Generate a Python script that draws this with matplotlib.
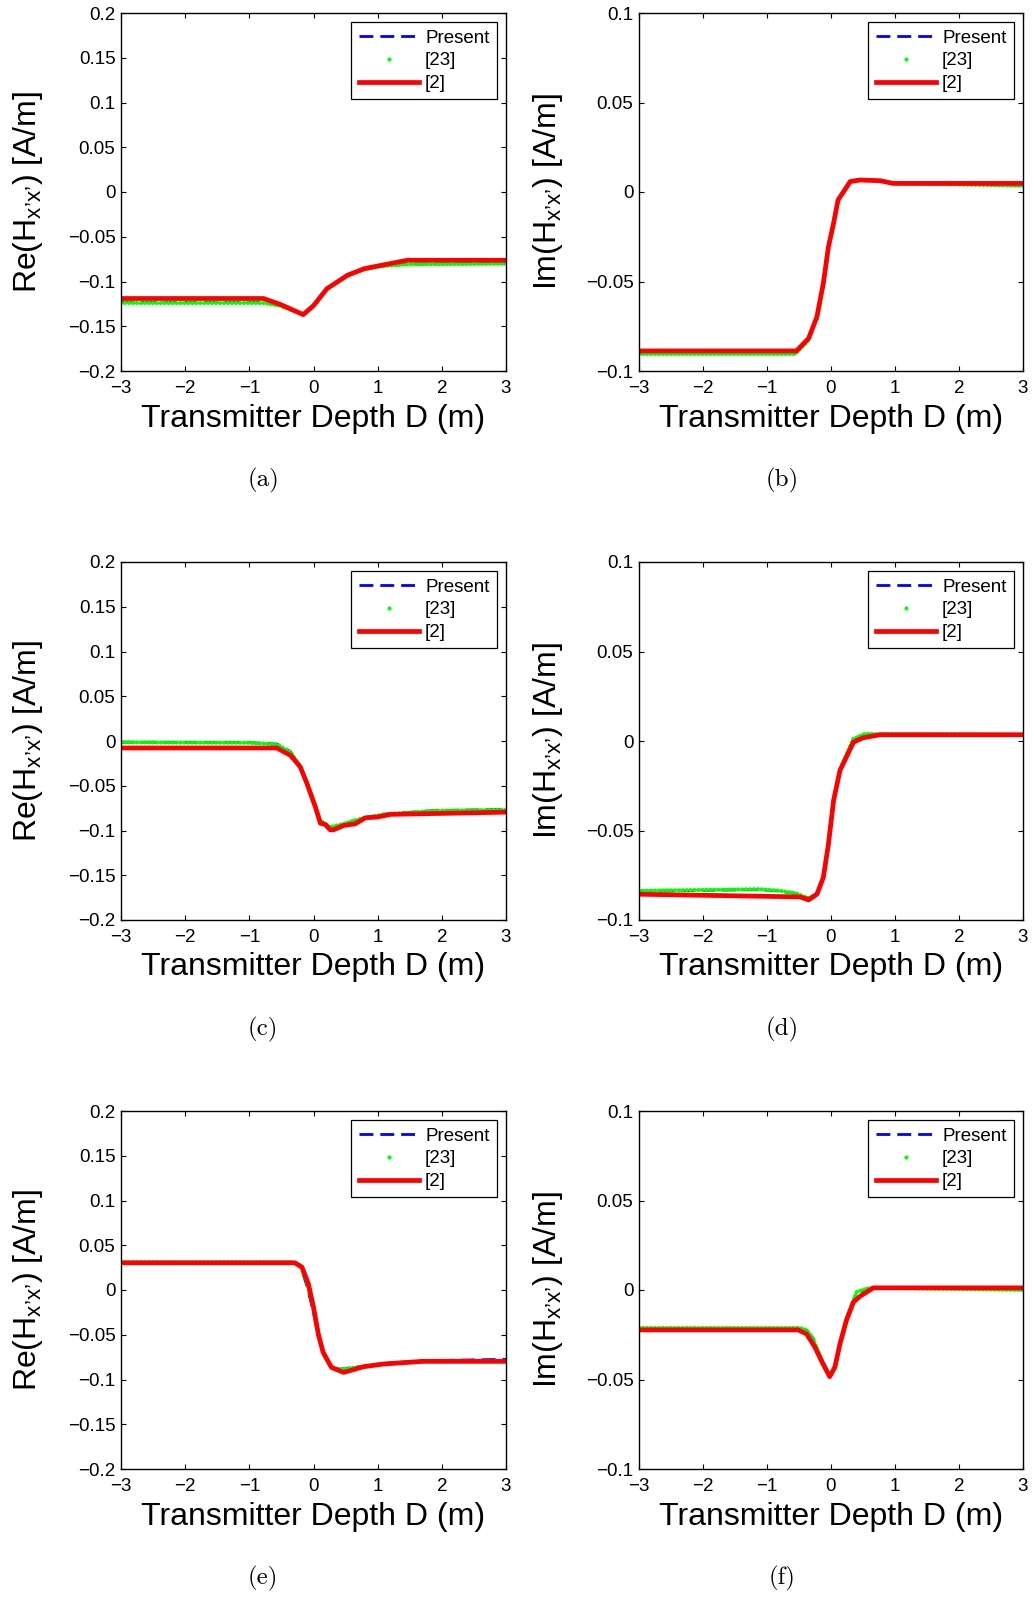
import numpy as np
import matplotlib
matplotlib.use("Agg")
import matplotlib.pyplot as plt
from matplotlib.lines import Line2D
from matplotlib import ticker

plt.rcParams['font.family'] = ['Liberation Sans', 'DejaVu Sans']
plt.rcParams['mathtext.fontset'] = 'custom'
plt.rcParams['mathtext.rm'] = 'Liberation Sans'
plt.rcParams['mathtext.it'] = 'Liberation Sans'

W, H = 1034, 1597

x_ticks = [-3, -2, -1, 0, 1, 2, 3]
re_ticks = [-0.2, -0.15, -0.1, -0.05, 0, 0.05, 0.1, 0.15, 0.2]
im_ticks = [-0.1, -0.05, 0, 0.05, 0.1]
legend_labels = ["Present", "[23]", "[2]"]
captions = ["(a)", "(b)", "(c)", "(d)", "(e)", "(f)"]

# (a) Re, case 1
a_red_x = [-3, -0.78, -0.52, -0.16, 0.0, 0.21, 0.53, 0.79, 1.05, 1.46, 3]
a_red_y = [-0.119, -0.119, -0.1255, -0.137, -0.127, -0.108, -0.093, -0.0857, -0.082, -0.0763, -0.0763]
a_grn_x = [-3, -0.78, -0.52, -0.16, 0.0, 0.21, 0.53, 0.79, 1.05, 1.46, 2.2, 3]
a_grn_y = [-0.124, -0.124, -0.127, -0.137, -0.127, -0.108, -0.093, -0.0865, -0.083, -0.0808, -0.0805, -0.080]
a_blu_y = [-0.1235, -0.1235, -0.1268, -0.1368, -0.1265, -0.1075, -0.0928, -0.0862, -0.0828, -0.0806, -0.0802, -0.0798]

# (b) Im, case 1
b_red_x = [-3, -0.54, -0.35, -0.22, -0.12, -0.04, 0.04, 0.11, 0.30, 0.45, 0.77, 0.97, 3]
b_red_y = [-0.0888, -0.0888, -0.0818, -0.0697, -0.051, -0.0306, -0.0175, -0.0045, 0.0058, 0.0067, 0.0063, 0.0048, 0.0048]
b_grn_x = [-3, -0.56, -0.37, -0.22, -0.12, -0.04, 0.04, 0.11, 0.30, 0.45, 0.77, 0.97, 2.0, 3]
b_grn_y = [-0.0905, -0.0905, -0.0835, -0.0705, -0.052, -0.031, -0.0175, -0.0045, 0.0062, 0.0068, 0.0062, 0.0048, 0.0042, 0.0035]
b_blu_y = [-0.0902, -0.0902, -0.0832, -0.0702, -0.0525, -0.0315, -0.018, -0.0048, 0.006, 0.0067, 0.0062, 0.0048, 0.0043, 0.0037]

# (c) Re, case 2
c_red_x = [-3, -0.57, -0.36, -0.205, -0.10, 0.03, 0.106, 0.184, 0.26, 0.31, 0.47, 0.65, 0.81, 0.99, 1.2, 3]
c_red_y = [-0.0078, -0.0078, -0.016, -0.029, -0.048, -0.0739, -0.0918, -0.0933, -0.0993, -0.0993, -0.0944, -0.0925, -0.0858, -0.085, -0.082, -0.0795]
c_grn_x = [-3, -1.0, -0.57, -0.36, -0.23, -0.10, 0.03, 0.106, 0.26, 0.47, 0.73, 1.09, 1.87, 3]
c_grn_y = [-0.0015, -0.002, -0.0037, -0.0123, -0.026, -0.047, -0.073, -0.0888, -0.0963, -0.0925, -0.087, -0.082, -0.078, -0.0769]
c_blu_y = [-0.0013, -0.0018, -0.0035, -0.012, -0.026, -0.0475, -0.0735, -0.089, -0.0965, -0.0928, -0.0868, -0.0818, -0.0778, -0.0765]

# (d) Im, case 2
d_red_x = [-3, -0.48, -0.35, -0.22, -0.12, -0.04, 0.04, 0.14, 0.35, 0.50, 0.77, 3]
d_red_y = [-0.0856, -0.0871, -0.0888, -0.0856, -0.0763, -0.0576, -0.0333, -0.0165, -0.0007, 0.0018, 0.0035, 0.0035]
d_grn_x = [-3, -1.11, -0.80, -0.54, -0.35, -0.22, -0.12, -0.04, 0.04, 0.14, 0.35, 0.53, 0.77, 3]
d_grn_y = [-0.0837, -0.0828, -0.0837, -0.0852, -0.0879, -0.0855, -0.0763, -0.0576, -0.0333, -0.0160, 0.0012, 0.004, 0.0038, 0.0036]
d_blu_y = [-0.0839, -0.083, -0.0838, -0.0853, -0.0878, -0.0853, -0.0766, -0.058, -0.0338, -0.0162, 0.001, 0.0038, 0.0037, 0.0036]

# (e) Re, case 3
e_red_x = [-3, -0.29, -0.18, -0.08, 0.0, 0.075, 0.15, 0.28, 0.47, 0.78, 1.09, 1.71, 3]
e_red_y = [0.0304, 0.0304, 0.0256, 0.0069, -0.0192, -0.0491, -0.0697, -0.0865, -0.0921, -0.0857, -0.0827, -0.0797, -0.0797]
e_grn_x = [-3, -0.32, -0.20, -0.10, 0.0, 0.075, 0.15, 0.28, 0.42, 0.78, 1.09, 1.71, 3]
e_grn_y = [0.031, 0.031, 0.0265, 0.0075, -0.021, -0.050, -0.070, -0.0865, -0.0887, -0.0855, -0.0825, -0.0797, -0.0797]
e_blu_y = [0.0305, 0.0305, 0.026, 0.004, -0.025, -0.052, -0.071, -0.0866, -0.0885, -0.0852, -0.0822, -0.0790, -0.0775]

# (f) Im, case 3
f_red_x = [-3, -0.51, -0.38, -0.25, -0.15, -0.07, -0.02, 0.06, 0.14, 0.24, 0.35, 0.45, 0.66, 3]
f_red_y = [-0.0223, -0.0223, -0.0246, -0.032, -0.0395, -0.045, -0.0484, -0.0432, -0.0301, -0.0171, -0.0068, -0.0036, 0.0012, 0.0012]
f_grn_x = [-3, -0.49, -0.38, -0.28, -0.15, -0.07, -0.02, 0.06, 0.14, 0.24, 0.40, 0.55, 0.66, 3]
f_grn_y = [-0.0212, -0.0212, -0.0223, -0.0273, -0.0385, -0.0448, -0.0482, -0.043, -0.030, -0.016, -0.0012, 0.0007, 0.0012, 0.0]
f_blu_y = [-0.0214, -0.0214, -0.0225, -0.027, -0.0388, -0.045, -0.0484, -0.0432, -0.0302, -0.0165, -0.0015, 0.0006, 0.0012, 0.0008]

panels = [
    ("Re", re_ticks, a_red_x, a_red_y, a_grn_x, a_grn_y, a_blu_y),
    ("Im", im_ticks, b_red_x, b_red_y, b_grn_x, b_grn_y, b_blu_y),
    ("Re", re_ticks, c_red_x, c_red_y, c_grn_x, c_grn_y, c_blu_y),
    ("Im", im_ticks, d_red_x, d_red_y, d_grn_x, d_grn_y, d_blu_y),
    ("Re", re_ticks, e_red_x, e_red_y, e_grn_x, e_grn_y, e_blu_y),
    ("Im", im_ticks, f_red_x, f_red_y, f_grn_x, f_grn_y, f_blu_y),
]

BLUE = '#0000ff'
GREEN = '#00ff00'
RED = '#ff0000'

fig = plt.figure(figsize=(W / 100, H / 100), dpi=100)

col_left = [121, 639]
col_w = [385, 384]
row_top = [13, 562, 1111]
ax_h = 358
ylab_x = [28, 548]
cap_x = [263, 782]
cap_y = [480, 1029, 1578]


def minus_fmt(v, pos):
    return ('%g' % v).replace('-', '\u2212')


for i, (kind, yt, rx, ry, gx, gy, by) in enumerate(panels):
    r, c = divmod(i, 2)
    ax = fig.add_axes([col_left[c] / W, 1 - (row_top[r] + ax_h) / H, col_w[c] / W, ax_h / H])

    # Present (dashed blue), [23] (green dots), [2] (red solid)
    ax.plot(gx, by, color=BLUE, lw=2.0, dashes=(5, 2.5))
    ax.plot(gx, gy, color=GREEN, lw=3.0, linestyle=(0, (0.05, 0.9)), dash_capstyle='round')
    ax.plot(rx, ry, color=RED, lw=3.4, solid_joinstyle='round', solid_capstyle='round')

    ax.set_xlim(-3, 3)
    ax.set_ylim(yt[0], yt[-1])
    ax.set_xticks(x_ticks)
    ax.set_yticks(yt)
    ax.xaxis.set_major_formatter(ticker.FuncFormatter(minus_fmt))
    ax.yaxis.set_major_formatter(ticker.FuncFormatter(minus_fmt))
    ax.tick_params(direction='in', top=True, right=True, length=3.5, width=0.8,
                   labelsize=13.5, pad=4)
    ax.tick_params(axis='x', pad=6.5)
    for sp in ax.spines.values():
        sp.set_linewidth(1.0)

    ax.set_xlabel("Transmitter Depth D (m)", fontsize=23)
    ax.xaxis.label.set_va('center')
    ax.xaxis.set_label_coords(0.5, -47.5 / ax_h)
    ax.set_ylabel(kind + "(H$_{\\mathregular{x\u2019x\u2019}}$) [A/m]", fontsize=23)
    ax.yaxis.label.set_va('center')
    ax.yaxis.set_label_coords((ylab_x[c] - col_left[c]) / col_w[c], 0.5)

    handles = [
        Line2D([], [], color=BLUE, lw=2.0, dashes=(5, 2.5)),
        Line2D([], [], color=GREEN, ls='none', marker='.', markersize=4),
        Line2D([], [], color=RED, lw=3.4),
    ]
    leg = ax.legend(handles, legend_labels, loc='upper right', fontsize=13.5,
                    fancybox=False, framealpha=1, edgecolor='black',
                    handlelength=3.2, handletextpad=0.35, labelspacing=0.3,
                    borderpad=0.38, borderaxespad=0.5, numpoints=1)
    leg.get_frame().set_linewidth(0.9)

    fig.text(cap_x[c] / W, 1 - cap_y[r] / H, captions[i], fontsize=18,
             family='cmr10', ha='center', va='center')

fig.savefig("out.png", dpi=100)
